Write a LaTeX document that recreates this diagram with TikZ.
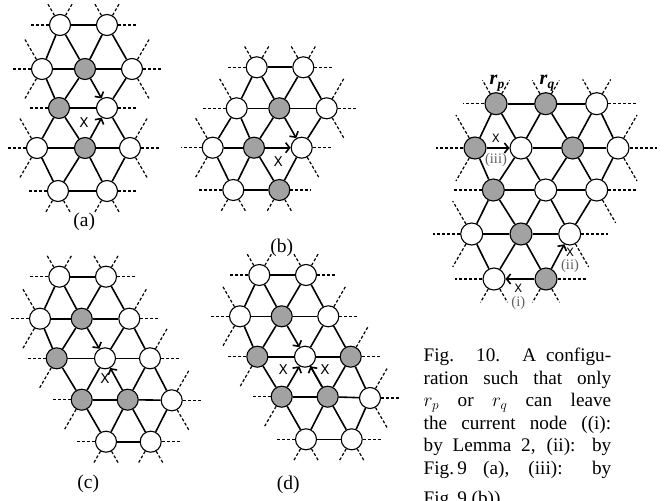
\RequirePackage{fix-cm}
\documentclass[tikz,border=0pt]{standalone}
\usepackage{fontspec}
\setmainfont{Liberation Serif}
\newfontfamily\xfont{DejaVu Sans}
\usetikzlibrary{arrows.meta}
\definecolor{ngray}{RGB}{162,162,162}
\definecolor{lblgray}{RGB}{95,95,95}
\newcommand\stubs[2]{\foreach \a/\l in {#2}{\draw[stb] (#1) -- ++(\a:\l pt);}}
\newcommand\edges[1]{\foreach \p/\q in {#1}{\draw[ln] (\p) -- (\q);}}
\newcommand\rlab[1]{{\fontsize{20}{20}\selectfont\bfseries\itshape r\raisebox{-4.5pt}{\fontsize{13.5}{13.5}\selectfont #1}}}
\tikzset{
  x=1pt, y=-1pt,
  wn/.style={circle, draw=black, line width=1.1pt, fill=white, minimum size=21pt, inner sep=0pt},
  gn/.style={wn, fill=ngray},
  wN/.style={wn, minimum size=22pt},
  gN/.style={gn, minimum size=22pt},
  ln/.style={line width=1.6pt},
  stb/.style={line width=1.2pt, dash pattern=on 3pt off 2pt},
  arr/.style={ln, -{Straight Barb[length=4pt,width=10pt]}},
  xm/.style={inner sep=0pt, font=\xfont\fontsize{13.5}{13.5}\selectfont},
  xs/.style={inner sep=0pt, font=\xfont\fontsize{11.5}{11.5}\selectfont},
  lbl/.style={inner sep=0pt, font=\fontsize{19.5}{19.5}\selectfont},
  rl/.style={inner sep=0pt, text=lblgray, font=\fontsize{14.5}{14.5}\selectfont},
  captxt/.style={anchor=base west, inner sep=0pt, font=\fontsize{19.2}{22.6}\selectfont},
}
\begin{document}
\begin{tikzpicture}
\useasboundingbox (0,0) rectangle (668,500);
% ---------------- (a)
\node[wn] (a11) at (60,25) {};
\node[wn] (a13) at (107,25) {};
\node[wn] (a20) at (42,69) {};
\node[gn] (a22) at (85,69) {};
\node[wn] (a24) at (132,69) {};
\node[gn] (a31) at (59,108) {};
\node[wn] (a33) at (107,108) {};
\node[wn] (a40) at (37,148) {};
\node[gn] (a42) at (85,148) {};
\node[wn] (a44) at (130,148) {};
\node[wn] (a51) at (58,191) {};
\node[wn] (a53) at (107,191) {};
\edges{a11/a13,a20/a22,a22/a24,a31/a33,a40/a42,a42/a44,a51/a53,
  a11/a20,a11/a22,a13/a22,a13/a24,a20/a31,a22/a31,a24/a33,
  a31/a40,a31/a42,a33/a44,a40/a51,a42/a51,a42/a53,a44/a53}
\draw[arr] (a22) -- (a33);
\draw[arr] (a42) -- (a33);
\stubs{a11}{180/30,120/25,60/25}
\stubs{a13}{0/30,120/25,60/25}
\stubs{a20}{180/30,120/34,240/34}
\stubs{a24}{0/30,60/34,300/34}
\stubs{a31}{180/30}
\stubs{a33}{0/30}
\stubs{a40}{180/30,120/34,240/34}
\stubs{a44}{0/30,60/34,300/34}
\stubs{a51}{180/30,240/26,300/26}
\stubs{a53}{0/30,240/26,300/26}
\node[xm] (xa) at (84,123) {X};
\node[lbl] (la) at (84.3,221.5) {(a)};
% ---------------- (b)
\node[wn] (b13) at (256.7,67.3) {};
\node[wn] (b15) at (303.3,67.3) {};
\node[wn] (b22) at (236.7,108.3) {};
\node[gn] (b24) at (279.3,108.3) {};
\node[wn] (b26) at (326.7,108.3) {};
\node[wn] (b31) at (212.7,147.7) {};
\node[gn] (b33) at (254,147.7) {};
\node[wn] (b35) at (301.7,147.7) {};
\node[wn] (b42) at (233.3,190) {};
\node[gn] (b44) at (279.3,190) {};
\edges{b13/b15,b22/b24,b24/b26,b31/b33,b42/b44,
  b13/b22,b13/b24,b15/b24,b15/b26,b22/b31,b22/b33,b24/b33,b26/b35,
  b31/b42,b33/b42,b33/b44,b35/b44}
\draw[arr] (b33) -- (b35);
\draw[arr] (b24) -- (b35);
\stubs{b13}{180/30,120/25,60/25}
\stubs{b15}{0/30,120/25,60/25}
\stubs{b22}{180/34,120/34}
\stubs{b26}{0/30,60/34,300/34}
\stubs{b31}{180/32,120/34,240/34}
\stubs{b35}{0/30,300/34}
\stubs{b42}{180/34,240/26,300/26}
\stubs{b44}{0/32,240/26,300/26}
\node[xm] (xb) at (278.3,161.7) {X};
\node[lbl] (lb) at (281.7,248) {(b)};
% ---------------- (c)
\node[wn] (c11) at (59.3,276.7) {};
\node[wn] (c13) at (106,276.7) {};
\node[wn] (c20) at (40,318.7) {};
\node[gn] (c22) at (81.7,318.7) {};
\node[wn] (c24) at (129.3,318.7) {};
\node[gn] (c31) at (56.7,358.3) {};
\node[wn] (c33) at (105,358.3) {};
\node[wn] (c35) at (150,358.3) {};
\node[gn] (c42) at (81.7,399.7) {};
\node[gn] (c44) at (127.7,399.7) {};
\node[wn] (c46) at (171.7,400.3) {};
\node[wn] (c53) at (106,441.7) {};
\node[wn] (c55) at (150.7,441.7) {};
\edges{c11/c13,c20/c22,c22/c24,c31/c33,c33/c35,c42/c44,c44/c46,c53/c55,
  c11/c20,c11/c22,c13/c22,c13/c24,c20/c31,c22/c31,c24/c33,c24/c35,
  c31/c42,c33/c42,c35/c44,c35/c46,c42/c53,c44/c53,c44/c55,c46/c55}
\draw[arr] (c22) -- (c33);
\draw[arr] (c44) -- (c33);
\stubs{c11}{180/30,120/25,60/25}
\stubs{c13}{0/30,120/25,60/25}
\stubs{c20}{180/30,120/34,240/34}
\stubs{c24}{0/30,60/34}
\stubs{c31}{180/30,240/34}
\stubs{c35}{0/30,60/34}
\stubs{c42}{180/30,240/34}
\stubs{c46}{0/30,60/34,300/34}
\stubs{c53}{180/30,240/26,300/26}
\stubs{c55}{0/30,240/26,300/26}
\node[xm] (xc) at (105,378.5) {X};
\node[lbl] (lc) at (88.3,484) {(c)};
% ---------------- (d)
\node[wn] (d11) at (259.3,275) {};
\node[wn] (d13) at (306,275) {};
\node[wn] (d20) at (240,316.3) {};
\node[gn] (d22) at (281.7,316.3) {};
\node[wn] (d24) at (328.3,316.3) {};
\node[gn] (d31) at (257.3,356.7) {};
\node[wn] (d33) at (305,356.7) {};
\node[gn] (d35) at (350.7,356.7) {};
\node[gn] (d42) at (281.7,396.7) {};
\node[gn] (d44) at (327.7,396.7) {};
\node[wn] (d46) at (370,398) {};
\node[wn] (d53) at (306,439.3) {};
\node[wn] (d55) at (351.7,439.3) {};
\edges{d11/d13,d20/d22,d22/d24,d31/d33,d33/d35,d42/d44,d44/d46,d53/d55,
  d11/d20,d11/d22,d13/d22,d13/d24,d20/d31,d22/d31,d24/d33,d24/d35,
  d31/d42,d33/d44,d35/d44,d35/d46,d42/d53,d44/d53,d44/d55,d46/d55}
\draw[arr] (d22) -- (d33);
\draw[arr] (d42) -- (d33);
\draw[arr] (d44) -- (d33);
\stubs{d11}{180/30,120/25,60/25}
\stubs{d13}{0/30,120/25,60/25}
\stubs{d20}{180/30,120/34,240/34}
\stubs{d24}{0/30,60/34}
\stubs{d31}{180/30,240/34}
\stubs{d35}{0/30,60/34}
\stubs{d42}{180/30,240/34}
\stubs{d46}{0/30,60/34,300/34}
\stubs{d53}{180/30,240/26,300/26}
\stubs{d55}{0/30,240/26,300/26}
\node[xm] (xd1) at (283.3,370) {X};
\node[xm] (xd2) at (325,370) {X};
\node[lbl] (ld) at (288.3,484.5) {(d)};
% ---------------- Fig. 10
\node[gN] (e11) at (496,103.7) {};
\node[gN] (e13) at (545.7,103.7) {};
\node[wN] (e15) at (596.7,103.7) {};
\node[gN] (e20) at (475,148) {};
\node[wN] (e22) at (521,148) {};
\node[gN] (e24) at (572.7,148) {};
\node[wN] (e26) at (618,148) {};
\node[gN] (e31) at (493.3,190) {};
\node[wN] (e33) at (545.7,190) {};
\node[wN] (e35) at (596.7,190) {};
\node[wN] (e40) at (471.7,234) {};
\node[gN] (e42) at (521,234) {};
\node[wN] (e44) at (569.7,234) {};
\node[wN] (e51) at (494,279) {};
\node[gN] (e53) at (546,279) {};
\edges{e11/e13,e13/e15,e22/e24,e24/e26,e31/e33,e33/e35,e40/e42,e42/e44,
  e11/e20,e11/e22,e13/e22,e13/e24,e15/e24,e15/e26,
  e20/e31,e22/e31,e22/e33,e24/e33,e24/e35,e26/e35,
  e31/e40,e31/e42,e33/e42,e33/e44,e35/e44,
  e40/e51,e42/e51,e42/e53}
\draw[arr] (e20) -- (e22);
\draw[arr] (e53) -- (e44);
\draw[arr] (e53) -- (e51);
\stubs{e11}{180/33,120/27,60/27}
\stubs{e13}{120/27,60/27}
\stubs{e15}{0/39,120/28,60/28}
\stubs{e20}{180/39,120/38,240/38}
\stubs{e26}{0/39,60/38,300/38}
\stubs{e31}{180/39}
\stubs{e35}{0/39,300/38}
\stubs{e40}{180/39,120/38,240/38}
\stubs{e44}{0/38,300/38}
\stubs{e51}{180/39,240/27,300/27}
\stubs{e53}{0/40,240/27,300/27}
\node[anchor=base, inner sep=0pt] (rp) at (497,84.3) {\rlab{p}};
\node[anchor=base, inner sep=0pt] (rq) at (547,84.3) {\rlab{q}};
\node[xs] (x3) at (495.8,138.5) {X};
\node[xs] (x2) at (570,252.5) {X};
\node[xs] (x1) at (518.3,288.3) {X};
\node[rl] (l3) at (496,160) {(iii)};
\node[rl] (l2) at (570,266.5) {(ii)};
\node[rl] (l1) at (518.3,302.7) {(i)};
% ---------------- caption
\node[captxt] (t1) at (423.5,361.5) {\makebox[187.5pt][s]{Fig. 10. A configu-}};
\node[captxt] (t2) at (423.5,384.2) {\makebox[187.5pt][s]{ration such that only}};
\node[captxt] (t3) at (423.5,406.5) {\makebox[187.5pt][s]{$r_p$ or $r_q$ can leave}};
\node[captxt] (t4) at (423.5,429) {\makebox[187.5pt][s]{the current node ((i):}};
\node[captxt] (t5) at (423.5,451.5) {\makebox[187.5pt][s]{by Lemma 2, (ii): by}};
\node[captxt] (t6) at (423.5,474) {\makebox[187.5pt][s]{Fig.\,9 (a), (iii): by}};
\node[captxt] (t7) at (423.5,504) {Fig.\,9 (b)).};
\end{tikzpicture}
\end{document}
